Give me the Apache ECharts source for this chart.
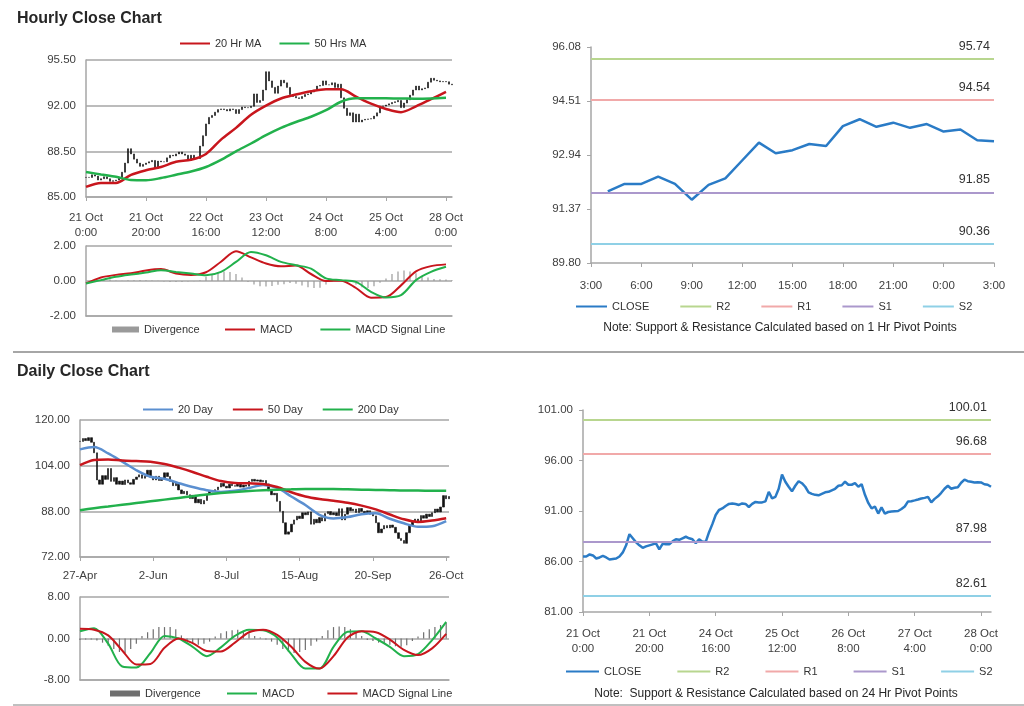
<!DOCTYPE html>
<html><head><meta charset="utf-8">
<script src="https://cdn.jsdelivr.net/npm/echarts@6/dist/echarts.min.js"></script>
<style>html,body{margin:0;padding:0;background:#fff}#c{width:1024px;height:706px}</style>
</head><body><div id="c"></div>
<script>
// ---------- DATA ----------
const hourlyTicks = ['21 Oct\n0:00','21 Oct\n20:00','22 Oct\n16:00','23 Oct\n12:00','24 Oct\n8:00','25 Oct\n4:00','28 Oct\n0:00'];
const hourlyPivotTicks = ['21 Oct\n0:00','21 Oct\n20:00','24 Oct\n16:00','25 Oct\n12:00','26 Oct\n8:00','27 Oct\n4:00','28 Oct\n0:00'];
const lastDayTicks = ['3:00','6:00','9:00','12:00','15:00','18:00','21:00','0:00','3:00'];
const dailyTicks = ['27-Apr','2-Jun','8-Jul','15-Aug','20-Sep','26-Oct'];

const hourlyClose = [86.5,86.5,86.7,86.6,86.3,86.4,86.55,86.4,86.2,86.25,
 86.3,86.5,86.9,87.6,88.7,88.3,87.9,87.6,87.35,87.5,
 87.6,87.7,87.8,87.2,87.75,87.7,87.7,88.0,88.2,88.15,
 88.3,88.45,88.3,88.2,87.8,88.2,87.95,87.95,88.9,89.7,
 90.6,91.1,91.25,91.5,91.7,91.75,91.7,91.6,91.75,91.7,
 91.4,91.7,91.9,91.85,91.85,91.95,92.9,92.25,92.4,93.2,
 94.6,93.9,93.4,92.95,93.5,93.95,93.75,93.4,92.85,92.7,
 92.6,92.55,92.7,92.85,92.9,93.05,93.2,93.5,93.55,93.9,
 93.6,93.6,93.75,93.4,93.65,92.6,91.8,91.25,91.45,90.75,
 91.35,90.75,90.9,90.95,90.98,91.0,91.2,91.45,91.95,91.97,
 92.05,92.14,92.24,92.3,92.4,91.85,92.2,92.45,92.8,93.2,
 93.5,93.2,93.3,93.36,93.8,94.1,93.95,93.9,93.83,93.85,
 93.83,93.65,93.6,93.4];
const hourlyMA20 = [85.77,86.08,86.08,86.7,87.05,87.3,87.7,87.85,88.3,89.4,90.3,91.3,92.0,92.55,92.85,93.1,93.25,93.25,92.7,92.15,91.75,91.5,91.95,92.5,93.05];
const hourlyMA50 = [86.92,86.73,86.55,86.3,86.28,86.45,86.7,86.95,87.3,87.85,88.5,89.1,89.74,90.3,90.75,91.15,91.65,92.3,92.56,92.56,92.56,92.55,92.53,92.55,92.6];
const hourlyMACD = [-0.14,0.2,0.35,0.44,0.6,0.68,0.43,0.35,0.5,1.1,1.7,1.35,1.0,0.84,0.88,0.4,0.0,0.02,-0.4,-0.95,-0.92,-0.25,0.55,0.85,0.95];
const hourlySignal = [-0.14,0.05,0.24,0.37,0.48,0.62,0.52,0.43,0.33,0.52,1.09,1.66,1.47,1.09,0.9,0.71,0.15,0.05,-0.05,-0.62,-0.94,-0.81,0.05,0.52,0.81];
const hourlyDivergence = [0,0.05,0.08,0.1,0.08,0.03,0.02,0.04,0.05,0.06,
 0.04,0.03,0.02,-0.03,-0.05,-0.06,-0.05,-0.03,-0.02,0.05,
 0.25,0.4,0.48,0.55,0.52,0.4,0.2,-0.05,-0.2,-0.3,
 -0.32,-0.28,-0.22,-0.18,-0.12,-0.15,-0.25,-0.35,-0.4,-0.38,
 -0.2,-0.05,0.0,0.02,-0.05,-0.2,-0.35,-0.4,-0.3,-0.1,
 0.15,0.4,0.55,0.6,0.55,0.45,0.3,0.2,0.12,0.1,
 0.08,0.05];
const lastDayClose = [91.88,92.10,92.10,92.31,92.10,91.64,92.07,92.26,92.78,93.30,92.99,93.08,93.26,93.20,93.78,93.98,93.76,93.88,93.73,93.84,93.62,93.68,93.37,93.34];
const pivotNames = ['R2','R1','S1','S2'];
const hourPivotLevels = [95.74, 94.54, 91.85, 90.36];
const dayPivotLevels = [100.01, 96.68, 87.98, 82.61];

const dailyClose = [112.5,113.5,112.8,113.8,112.2,108.5,99.0,97.5,100.5,99.2,
 103.0,98.5,99.8,97.5,98.6,97.4,99.0,98.0,97.5,99.2,
 100.0,100.8,99.6,100.3,102.4,100.0,99.0,100.3,98.8,99.5,
 101.5,100.2,98.5,97.0,98.0,95.5,94.2,95.0,93.8,92.5,
 93.6,91.0,92.2,90.6,91.8,94.0,95.2,94.8,95.6,96.5,
 97.8,96.8,96.2,97.5,97.0,96.8,97.8,96.5,97.2,96.8,
 98.5,99.2,98.6,99.0,98.4,98.8,97.6,95.2,93.8,94.3,
 91.5,88.0,84.0,80.0,80.8,83.5,85.0,86.3,85.5,87.5,
 86.8,87.8,83.5,85.2,84.0,85.8,84.6,87.2,87.9,86.8,
 87.5,86.5,88.9,85.0,87.0,89.3,88.2,88.8,87.6,89.0,
 88.0,87.4,88.2,87.0,86.4,84.0,80.5,81.8,83.0,82.2,
 83.2,82.4,80.5,78.5,77.8,76.8,80.5,83.0,84.5,85.3,
 84.2,86.5,85.6,87.0,86.2,87.5,88.8,87.8,89.5,93.5,
 92.4,93.2];
const dailyMA20 = [109.7,110.5,108.3,105.4,102.4,100.1,99.4,97.9,96.5,95.4,94.8,95.2,96.2,97.2,96.2,93.2,90.2,86.8,85.5,86.0,87.0,87.3,85.4,83.8,82.6,82.8,84.6];
const dailyMA50 = [104.2,106.0,106.2,105.8,105.6,105.4,104.6,103.3,101.8,100.1,98.6,97.9,97.8,97.6,96.5,94.7,93.2,92.3,91.7,91.0,90.0,88.7,86.9,85.2,84.3,84.8,85.6];
const dailyMA200 = [88.4,89.1,89.7,90.3,90.9,91.5,92.1,92.7,93.3,93.9,94.4,94.8,95.1,95.4,95.6,95.7,95.8,95.8,95.8,95.7,95.6,95.5,95.4,95.3,95.3,95.2,95.2];
const dailyMACD = [1.4,2.0,-1.0,-5.4,-5.6,-2.8,0.5,0.0,-1.6,-3.4,-1.7,0.5,1.7,1.6,0.2,-3.0,-5.8,-5.8,-1.6,1.3,1.4,0.0,-1.6,-3.4,-3.0,-0.3,3.2];
const dailySignal = [1.9,1.7,0.6,-2.3,-5.0,-4.9,-1.8,0.0,-0.9,-2.4,-2.5,-0.8,1.2,1.7,0.7,-1.6,-4.5,-5.8,-3.4,0.2,1.4,1.2,-0.2,-2.2,-3.2,-1.9,0.9];
const dailyDivergence = [-0.3,-0.2,-0.2,-0.4,-0.8,-1.4,-2.0,-2.6,-2.8,-2.0,
 -1.0,0.5,1.2,1.8,2.2,2.2,2.2,1.8,0.6,-0.3,
 -0.8,-1.2,-1.0,-0.6,0.4,1.0,1.4,1.6,1.7,1.5,
 1.0,0.5,0.2,-0.2,-0.6,-1.2,-2.0,-2.6,-2.8,-2.6,
 -2.2,-1.4,-0.6,0.5,1.6,2.2,2.3,2.2,1.8,1.2,
 0.5,-0.3,-0.5,-0.8,-1.0,-1.2,-1.5,-1.6,-1.3,-0.5,
 0.4,1.2,1.8,2.2,2.6,3.0];

// ---------- HELPERS ----------
const FONT = "'Liberation Sans', Arial, sans-serif";
const LABEL = '#404040';
const AXIS = '#a6a6a6';
const RED = '#c8161d', GREEN = '#22b14c', BLUE20 = '#5b8fd0', CLOSEC = '#2a7bc6';
const PIVOT_COLORS = ['#b8d68f', '#f1a9a9', '#ab98cc', '#8fd0e6'];

const idxCats = n => Array.from({length: n}, (_, i) => String(i));
const pairs = (vals, step, offset) => vals.map((v, i) => [i * step + (offset || 0), v]);
const candles = closes => closes.map((c, i) => {
  const o = i > 0 ? closes[i - 1] : c;
  return [o, c, Math.min(o, c), Math.max(o, c)];
});

function xCat(grid, n, every, ticks, margin) {
  const show = !!ticks;
  return {
    type: 'category', gridIndex: grid, data: idxCats(n), boundaryGap: false,
    axisLine: {show: true, onZero: false, lineStyle: {color: AXIS, width: 1.5}},
    axisTick: {show: show, interval: every - 1, length: 4, lineStyle: {color: AXIS}},
    axisLabel: {show: show, interval: every - 1, color: LABEL, fontSize: 11.5, fontFamily: FONT, lineHeight: 15, margin: margin || 8,
      formatter: (v, i) => (show && i % every === 0) ? (ticks[i / every] || '') : ''},
    splitLine: {show: false}
  };
}
function yVal(grid, min, max, interval, split, tick) {
  return {
    type: 'value', gridIndex: grid, min: min, max: max, interval: interval,
    axisLine: {show: true, lineStyle: {color: AXIS, width: 1.5}},
    axisTick: {show: !!tick, length: 4, lineStyle: {color: AXIS}},
    axisLabel: {color: LABEL, fontSize: 11.5, fontFamily: FONT, margin: 10, formatter: v => v.toFixed(2)},
    splitLine: {show: split, lineStyle: {color: AXIS, width: 1.5}}
  };
}
function maLine(name, x, vals, step, color, width) {
  return {name: name, type: 'line', xAxisIndex: x, yAxisIndex: x, data: pairs(vals, step),
    smooth: 0.3, symbol: 'none', lineStyle: {color: color, width: width || 2.5}, itemStyle: {color: color}, z: 3};
}
function divBars(name, x, vals, color) {
  return {name: name, type: 'bar', xAxisIndex: x, yAxisIndex: x, data: pairs(vals, 2),
    barWidth: 1.2, itemStyle: {color: color}, z: 2};
}
function pivotSeries(suffix, x, levels) {
  return pivotNames.map((n, k) => ({
    name: n + suffix, type: 'line', xAxisIndex: x, yAxisIndex: x, data: [],
    symbol: 'none', lineStyle: {color: PIVOT_COLORS[k], width: 2}, itemStyle: {color: PIVOT_COLORS[k]},
    markLine: {silent: true, symbol: ['none', 'none'], animation: false,
      lineStyle: {color: PIVOT_COLORS[k], width: 2, type: 'solid'},
      label: {show: true, position: 'insideEndTop', distance: [4, 6], color: '#333', fontSize: 12.5, fontFamily: FONT,
        formatter: () => levels[k].toFixed(2)},
      data: [{yAxis: levels[k]}]}
  }));
}
const legendBase = {icon: 'rect', itemWidth: 30, itemHeight: 2,
  textStyle: {color: '#333', fontSize: 11, fontFamily: FONT}, selectedMode: false};
const leg = o => Object.assign({}, legendBase, o);
const candleStyle = {color: '#111', color0: '#111', borderColor: '#111', borderColor0: '#111', borderWidth: 0.6};

const hourN = 123;
const chart = echarts.init(document.getElementById('c'), null, {renderer: 'canvas'});
chart.setOption({
  animation: false,
  backgroundColor: '#fff',
  textStyle: {fontFamily: FONT},
  title: [
    {text: 'Hourly Close Chart', left: 12, top: 6, textStyle: {fontSize: 16, fontWeight: 'bold', color: '#262626', fontFamily: FONT}},
    {text: 'Daily Close Chart', left: 12, top: 359, textStyle: {fontSize: 16, fontWeight: 'bold', color: '#262626', fontFamily: FONT}},
    {text: 'Note: Support & Resistance Calculated based on 1 Hr Pivot Points', left: 775, top: 317, textAlign: 'center',
      textStyle: {fontSize: 12, fontWeight: 'normal', color: '#262626', fontFamily: FONT}},
    {text: 'Note:  Support & Resistance Calculated based on 24 Hr Pivot Points', left: 771, top: 683, textAlign: 'center',
      textStyle: {fontSize: 12, fontWeight: 'normal', color: '#262626', fontFamily: FONT}}
  ],
  graphic: [
    {type: 'line', shape: {x1: 13, y1: 352, x2: 1024, y2: 352}, style: {stroke: '#a6a6a6', lineWidth: 2}},
    {type: 'line', shape: {x1: 13, y1: 705, x2: 1024, y2: 705}, style: {stroke: '#c0c0c0', lineWidth: 2}}
  ],
  legend: [
    leg({data: ['20 Hr MA', '50 Hrs MA'], left: 175, top: 33, itemGap: 18}),
    leg({data: ['Divergence'], left: 107, top: 319, itemWidth: 27, itemHeight: 6}),
    leg({data: ['MACD', 'MACD Signal Line'], left: 220, top: 319, itemGap: 28}),
    leg({data: ['CLOSE', 'R2', 'R1', 'S1', 'S2'], left: 571, top: 296, itemGap: 31, itemWidth: 31}),
    leg({data: ['20 Day', '50 Day', '200 Day'], left: 138, top: 399, itemGap: 20}),
    leg({data: ['Divergence '], left: 105, top: 683, itemWidth: 30, itemHeight: 6}),
    leg({data: ['MACD ', 'MACD Signal Line '], left: 222, top: 683, itemGap: 30}),
    leg({data: ['CLOSE ', 'R2 ', 'R1 ', 'S1 ', 'S2 '], left: 561, top: 661, itemGap: 33, itemWidth: 33})
  ],
  grid: [
    {left: 86, top: 60, width: 366, height: 137},
    {left: 86, top: 246, width: 366, height: 70},
    {left: 591, top: 47, width: 403, height: 216},
    {left: 80, top: 420, width: 369, height: 137},
    {left: 80, top: 597, width: 369, height: 83},
    {left: 583, top: 410, width: 408, height: 202}
  ],
  xAxis: [
    xCat(0, hourN, 20, hourlyTicks, 13),
    xCat(1, hourN, 20, null),
    xCat(2, 25, 3, lastDayTicks, 15),
    xCat(3, dailyClose.length, 26, dailyTicks, 11),
    xCat(4, dailyClose.length, 26, null),
    xCat(5, hourlyClose.length, 20, hourlyPivotTicks, 14)
  ],
  yAxis: [
    yVal(0, 85, 95.5, 3.5, true, false),
    yVal(1, -2, 2, 2, true, false),
    yVal(2, 89.8, 96.08, 1.57, false, true),
    yVal(3, 72, 120, 16, true, false),
    yVal(4, -8, 8, 8, true, false),
    yVal(5, 81, 101, 5, false, true)
  ],
  series: [
    {name: 'Hourly', type: 'candlestick', xAxisIndex: 0, yAxisIndex: 0, data: candles(hourlyClose.slice(0, hourN)),
      barWidth: 2, itemStyle: candleStyle, z: 2},
    maLine('20 Hr MA', 0, hourlyMA20, 5, RED, 2.5),
    maLine('50 Hrs MA', 0, hourlyMA50, 5, GREEN, 2.5),
    divBars('Divergence', 1, hourlyDivergence, '#9a9a9a'),
    maLine('MACD', 1, hourlyMACD, 5, RED, 2),
    maLine('MACD Signal Line', 1, hourlySignal, 5, GREEN, 2),
    {name: 'CLOSE', type: 'line', xAxisIndex: 2, yAxisIndex: 2, data: pairs(lastDayClose, 1, 1),
      symbol: 'none', lineStyle: {color: CLOSEC, width: 2.5}, itemStyle: {color: CLOSEC}, z: 4},
    ...pivotSeries('', 2, hourPivotLevels),
    {name: 'Daily', type: 'candlestick', xAxisIndex: 3, yAxisIndex: 3, data: candles(dailyClose),
      barWidth: 2, itemStyle: candleStyle, z: 2},
    maLine('20 Day', 3, dailyMA20, 5, BLUE20, 2.5),
    maLine('50 Day', 3, dailyMA50, 5, RED, 2.5),
    maLine('200 Day', 3, dailyMA200, 5, GREEN, 2.5),
    divBars('Divergence ', 4, dailyDivergence, '#6f6f6f'),
    maLine('MACD ', 4, dailyMACD, 5, GREEN, 2),
    maLine('MACD Signal Line ', 4, dailySignal, 5, RED, 2),
    {name: 'CLOSE ', type: 'line', xAxisIndex: 5, yAxisIndex: 5, data: pairs(hourlyClose, 1),
      symbol: 'none', lineStyle: {color: CLOSEC, width: 2.5}, itemStyle: {color: CLOSEC}, z: 4},
    ...pivotSeries(' ', 5, dayPivotLevels)
  ]
});
</script></body></html>
